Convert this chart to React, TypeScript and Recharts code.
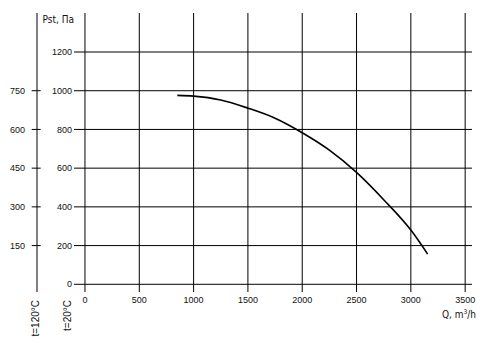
import React from 'react';
import { LineChart, Line, XAxis, YAxis, CartesianGrid } from 'recharts';

// Fan curve: flow Q (m³/h) vs static pressure Pst (Pa)
const flowQ = [850, 1000, 1250, 1500, 1750, 2000, 2250, 2500, 2750, 3000, 3155];
const pressurePst = [976, 972, 952, 910, 858, 783, 693, 578, 437, 280, 156];

const xTicks = [0, 500, 1000, 1500, 2000, 2500, 3000, 3500];
const yTicks = [0, 200, 400, 600, 800, 1000, 1200];
const hotTicks = [150, 300, 450, 600, 750];

const data = flowQ.map((q, i) => ({ q, p: pressurePst[i] }));

const X_DOMAIN: [number, number] = [-101, 3563];
const Y_DOMAIN: [number, number] = [-39.8, 1401.5];
const HOT_DOMAIN: [number, number] = [-29.8, 907.7];

const INK = '#111';
const NUM_FONT = "'Liberation Sans', Arial, sans-serif";
const NARROW_FONT = "'Liberation Sans Narrow', 'DejaVu Sans Condensed', 'Liberation Sans', sans-serif";

const HotTick = (props: any) => {
  const { x, y, payload } = props;
  return (
    <g>
      <line x1={x + 6.7} x2={x + 15.7} y1={y} y2={y} stroke="#000" strokeWidth={1} />
      <text x={x} y={y} dy="0.35em" textAnchor="end" fontSize={9} fontFamily={NUM_FONT} fill={INK}>
        {payload.value}
      </text>
    </g>
  );
};

const mainYLabel = (props: any) => {
  const vb = props.viewBox || {};
  const right = vb.x + vb.width;
  const tx = right - 7;
  const ty = vb.y + vb.height + 8;
  return (
    <g>
      <text x={right} y={vb.y + 10.3} textAnchor="end" fontSize={10} fontFamily={NARROW_FONT} fill={INK}>
        Pst, Па
      </text>
      <text x={tx} y={ty} dy="0.35em" textAnchor="end" transform={`rotate(-90 ${tx} ${ty})`} fontSize={10} fontFamily={NUM_FONT} fill={INK}>
        t=20°C
      </text>
    </g>
  );
};

const hotYLabel = (props: any) => {
  const vb = props.viewBox || {};
  const tx = vb.x + vb.width - 1.5;
  const ty = vb.y + vb.height + 8;
  return (
    <text x={tx} y={ty} dy="0.35em" textAnchor="end" transform={`rotate(-90 ${tx} ${ty})`} fontSize={10} fontFamily={NUM_FONT} fill={INK}>
      t=120°C
    </text>
  );
};

const xLabel = (props: any) => {
  const vb = props.viewBox || {};
  return (
    <text x={vb.x + vb.width + 4} y={vb.y + 25.5} textAnchor="end" fontSize={10} fontFamily={NARROW_FONT} fill={INK}>
      Q, m<tspan dy={-4} fontSize={6.5}>3</tspan><tspan dy={4}>/h</tspan>
    </text>
  );
};

const vGen = (p: any) => {
  const sc = p?.xAxis?.scale;
  if (typeof sc === 'function') return xTicks.map((t) => sc(t));
  const { left, width } = p.offset;
  return xTicks.map((t) => left + ((t - X_DOMAIN[0]) / (X_DOMAIN[1] - X_DOMAIN[0])) * width);
};

const hGen = (p: any) => {
  const sc = p?.yAxis?.scale;
  if (typeof sc === 'function') return yTicks.map((t) => sc(t));
  const { top, height } = p.offset;
  return yTicks.map((t) => top + ((Y_DOMAIN[1] - t) / (Y_DOMAIN[1] - Y_DOMAIN[0])) * height);
};

export default function App() {
  return (
    <div style={{ position: 'absolute', left: 0, top: 0, width: 483, height: 343, background: '#fff' }}>
      <LineChart
        width={483}
        height={343}
        data={data}
        margin={{ top: 13, right: 11, bottom: 21, left: 7 }}
      >
        <CartesianGrid
          stroke="#000"
          strokeWidth={1}
          horizontal={true}
          vertical={true}
          verticalCoordinatesGenerator={vGen}
          horizontalCoordinatesGenerator={hGen}
        />
        <XAxis
          dataKey="q"
          type="number"
          domain={X_DOMAIN}
          allowDataOverflow
          ticks={xTicks}
          interval={0}
          height={30}
          tickSize={0}
          tickLine={false}
          axisLine={false}
          tickMargin={5}
          tick={{ fontSize: 9, fontFamily: NUM_FONT, fill: INK }}
          label={{ content: xLabel }}
        />
        <YAxis
          type="number"
          domain={Y_DOMAIN}
          allowDataOverflow
          ticks={yTicks}
          interval={0}
          width={37}
          tickSize={0}
          tickLine={false}
          axisLine={false}
          tickMargin={2}
          tick={{ fontSize: 9, fontFamily: NUM_FONT, fill: INK }}
          label={{ content: mainYLabel }}
        />
        <YAxis
          yAxisId="hot"
          type="number"
          domain={HOT_DOMAIN}
          allowDataOverflow
          ticks={hotTicks}
          interval={0}
          width={30}
          padding={{ top: 37, bottom: 0 }}
          tickSize={0}
          tickLine={false}
          axisLine={{ stroke: '#000', strokeWidth: 1 }}
          tickMargin={12}
          tick={<HotTick />}
          label={{ content: hotYLabel }}
        />
        <Line
          dataKey="p"
          type="monotone"
          stroke="#000"
          strokeWidth={1.6}
          dot={false}
          isAnimationActive={false}
        />
      </LineChart>
    </div>
  );
}
